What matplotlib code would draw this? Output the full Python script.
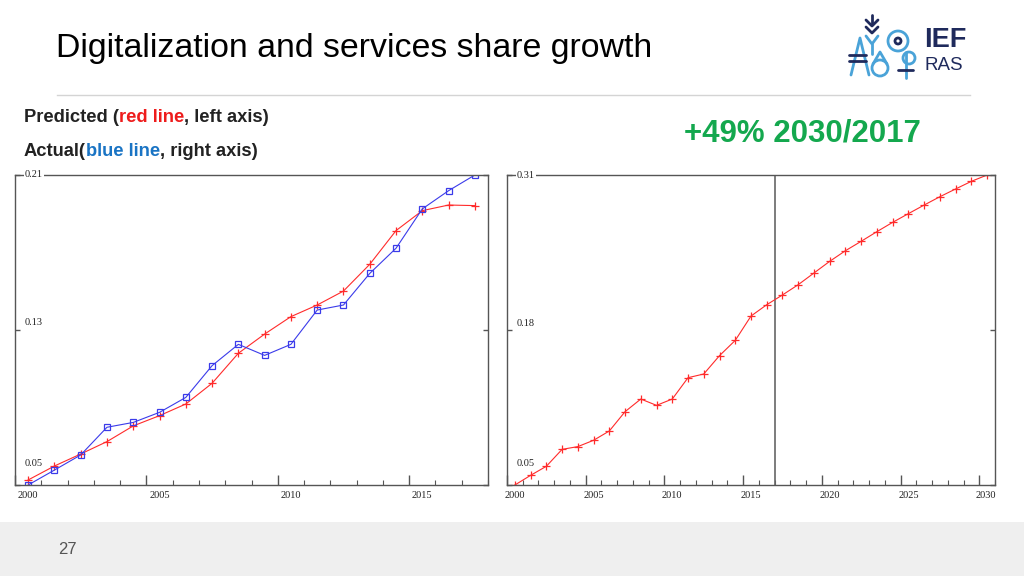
import numpy as np
import matplotlib.pyplot as plt
from matplotlib.lines import Line2D
from matplotlib.patches import Rectangle, Ellipse
from matplotlib.transforms import offset_copy

W, H = 1024, 576

# -----------------------------------
# data
# -----------------------------------
years_hist = np.arange(2000, 2018)
predicted = [0.0526, 0.0598, 0.0660, 0.0724, 0.0805, 0.0858, 0.0918, 0.1025, 0.1180,
             0.1279, 0.1369, 0.1429, 0.1501, 0.1639, 0.1813, 0.1916, 0.1945, 0.1942]
actual = [0.0500, 0.0577, 0.0655, 0.0798, 0.0823, 0.0875, 0.0952, 0.1116, 0.1226,
          0.1169, 0.1226, 0.1403, 0.1429, 0.1592, 0.1722, 0.1925, 0.2019, 0.2100]

years_fc = np.arange(2000, 2031)
forecast = [0.0500, 0.0581, 0.0657, 0.0799, 0.0822, 0.0875, 0.0953, 0.1115, 0.1221,
            0.1168, 0.1221, 0.1400, 0.1431, 0.1585, 0.1713, 0.1917, 0.2012, 0.2094,
            0.2180, 0.2278, 0.2376, 0.2465, 0.2544, 0.2625, 0.2703, 0.2776, 0.2848,
            0.2918, 0.2983, 0.3047, 0.3100]

left_yticks = [0.05, 0.13, 0.21]
right_yticks = [0.05, 0.18, 0.31]

RED = '#ff2b2b'
BLUE = '#3b3bea'
FRAME = '#555555'
TICKFONT = 'Liberation Serif'


def fx(px):
    return px / W


def fy(py):
    return 1 - py / H


fig = plt.figure(figsize=(10.24, 5.76), dpi=100)


def setup_axis(ax, x0, x1, yticks, label_offsets):
    ax.set_xlim(x0, x1)
    ax.set_ylim(yticks[0], yticks[-1])
    for s in ax.spines.values():
        s.set_color(FRAME)
        s.set_linewidth(1.0)
    ax.set_xticks(np.arange(x0, x1 + 1, 5))
    ax.set_xticks(np.arange(x0, x1 + 1), minor=True)
    ax.set_yticks(yticks)
    ax.tick_params(axis='x', which='major', direction='in', length=7, width=1,
                   color=FRAME, labelbottom=False)
    ax.tick_params(axis='x', which='minor', direction='in', length=3.6, width=0.8,
                   color=FRAME)
    ax.tick_params(axis='y', direction='in', length=3.6, width=1, color=FRAME,
                   left=True, right=True, labelleft=False)
    # year labels sit in the middle of each year
    xt = offset_copy(ax.get_xaxis_transform(), fig=fig, x=0, y=-10, units='dots')
    for yr in range(x0, x1, 5):
        xpos = min(yr + 0.5, x1 - 0.6)
        ax.text(xpos, 0, str(yr), transform=xt, ha='center', va='center',
                fontsize=7.5, family=TICKFONT, color='#222222', clip_on=False)
    for val, dy in zip(yticks, label_offsets):
        yt = offset_copy(ax.get_yaxis_transform(), fig=fig, x=10, y=dy, units='dots')
        ax.text(0, val, '%.2f' % val, transform=yt, ha='left', va='center',
                fontsize=7.5, family=TICKFONT, color='#222222', clip_on=False,
                bbox=dict(boxstyle='square,pad=0.1', fc='white', ec='none'))


# left chart: predicted vs actual
ax1 = fig.add_axes([fx(15), fy(485), 473 / W, 310 / H])
setup_axis(ax1, 2000, 2018, left_yticks, [21, 7, 0])
ax1.plot(years_hist + 0.5, predicted, color=RED, lw=0.8, marker='+', ms=6, mew=0.9)
ax1.plot(years_hist + 0.5, actual, color=BLUE, lw=0.8, marker='s', ms=4.5,
         mfc='none', mec=BLUE, mew=0.9)

# right chart: forecast to 2030
ax2 = fig.add_axes([fx(507), fy(485), 488 / W, 310 / H])
setup_axis(ax2, 2000, 2031, right_yticks, [21, 7, 0])
ax2.axvline(2017, color='#666666', lw=1.2)
ax2.plot(years_fc + 0.5, forecast, color=RED, lw=0.8, marker='+', ms=6, mew=0.9)

# -----------------------------------
# slide decorations
# -----------------------------------
fig.text(fx(56), fy(48), 'Digitalization and services share growth', fontsize=24.4,
         family='Liberation Sans', va='center', ha='left', color='black')
fig.add_artist(Line2D([fx(57), fx(970)], [fy(95), fy(95)], color='#d4d4d4', lw=1))

fig.add_artist(Rectangle((0, 0), 1, 54 / H, transform=fig.transFigure,
                         fc='#efefef', ec='none', zorder=-5))
fig.text(fx(67), fy(550), '27', fontsize=12, color='#555555', ha='center',
         va='center', family='Liberation Sans')

fig.text(fx(802), fy(133), '+49% 2030/2017', fontsize=22.5, fontweight='bold',
         color='#14a84e', ha='center', va='center', family='Liberation Sans')


def color_line(x, y, parts):
    fig.canvas.draw()
    r = fig.canvas.get_renderer()
    cur = x
    for txt, col in parts:
        t = fig.text(fx(cur), fy(y), txt, fontsize=13.2, fontweight='bold', color=col,
                     va='center', ha='left', family='Liberation Sans')
        cur += t.get_window_extent(renderer=r).width


color_line(24, 117, [('Predicted (', '#222222'), ('red line', '#ee1c1c'),
                     (', left axis)', '#222222')])
color_line(24, 152, [('Actual(', '#222222'), ('blue line', '#1a74c4'),
                     (', right axis)', '#222222')])

# logo (rough)
NAVY = '#1f2a5c'
LB = '#4aa3d8'


def seg(pts, col, lw=2.0):
    xs = [fx(p[0]) for p in pts]
    ys = [fy(p[1]) for p in pts]
    fig.add_artist(Line2D(xs, ys, color=col, lw=lw, solid_capstyle='round'))


seg([(872, 15), (872, 24)], NAVY)
seg([(866, 20), (872, 26), (878, 20)], NAVY)
seg([(866, 27), (872, 33), (878, 27)], NAVY)
seg([(866, 36), (872, 44), (878, 36)], LB)
seg([(872, 44), (872, 54)], LB)
seg([(851, 75), (860, 38), (869, 75)], LB)
seg([(849, 55), (866, 55)], NAVY)
seg([(849, 61), (866, 61)], NAVY)
fig.add_artist(Ellipse((fx(898), fy(41)), 20 / W, 20 / H, transform=fig.transFigure,
                       fc='none', ec=LB, lw=2))
fig.add_artist(Ellipse((fx(898), fy(41)), 6 / W, 6 / H, transform=fig.transFigure,
                       fc='none', ec=NAVY, lw=2))
fig.add_artist(Ellipse((fx(880), fy(68)), 16 / W, 16 / H, transform=fig.transFigure,
                       fc='none', ec=LB, lw=2))
seg([(873, 64), (880, 52), (887, 64)], LB)
seg([(906, 52), (906, 78)], LB)
fig.add_artist(Ellipse((fx(909), fy(58)), 12 / W, 12 / H, transform=fig.transFigure,
                       fc='none', ec=LB, lw=2))
seg([(898, 70), (913, 70)], NAVY)
fig.text(fx(924), fy(40), 'IEF', fontsize=19.5, fontweight='bold', color=NAVY,
         va='center', ha='left', family='Liberation Sans')
fig.text(fx(925), fy(65), 'RAS', fontsize=13.5, color=NAVY, va='center', ha='left',
         family='Liberation Sans')

fig.savefig('out.png', dpi=100, facecolor='white')
